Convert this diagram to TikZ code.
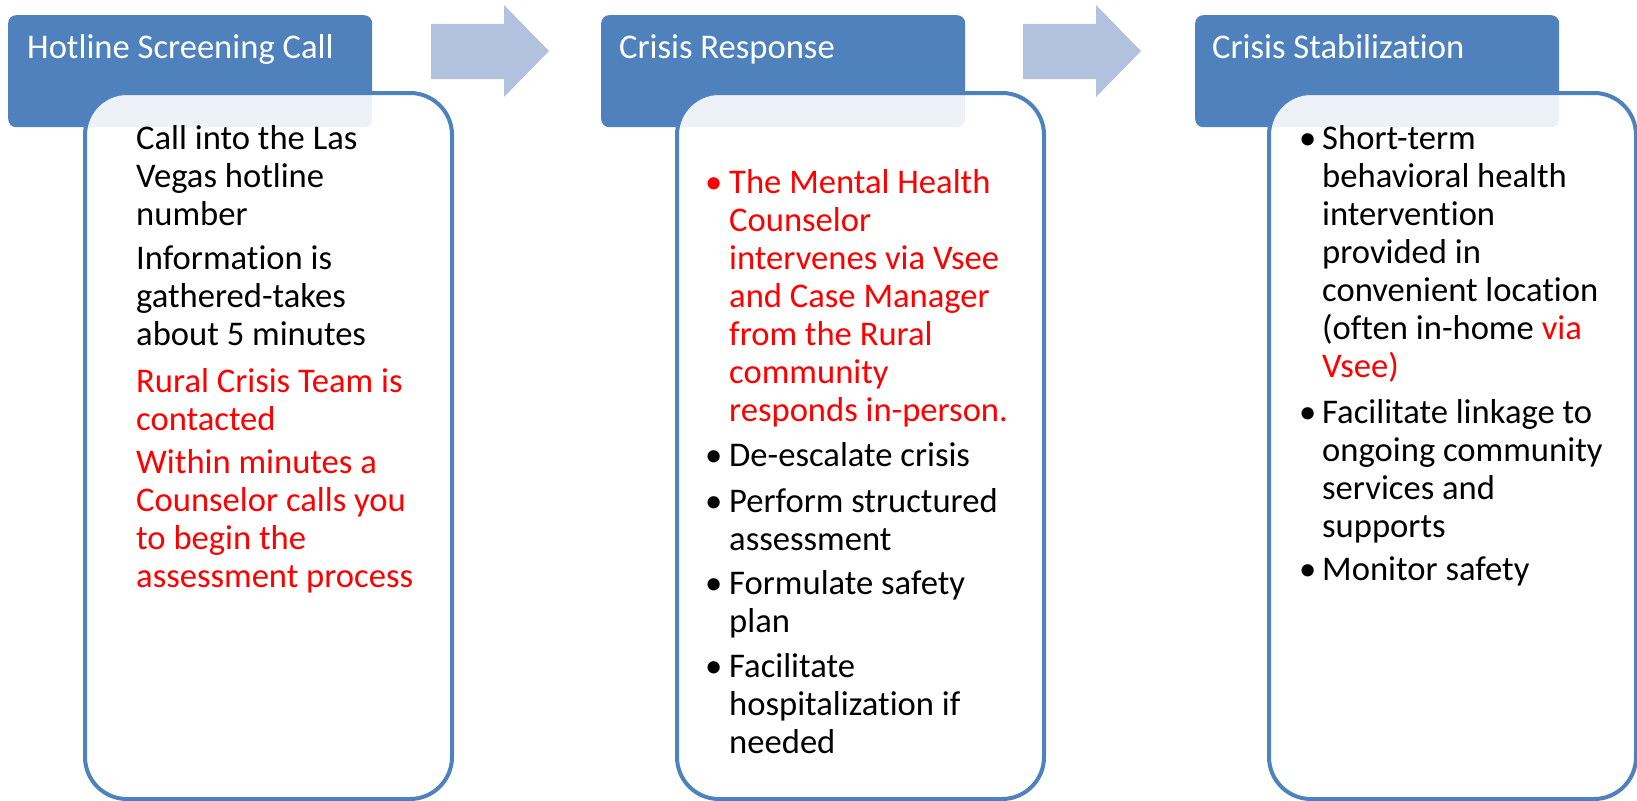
\documentclass[tikz,border=0pt]{standalone}
\usepackage{fontspec}
\setmainfont{Carlito}[Ligatures=NoCommon]
\definecolor{hdrblue}{HTML}{4F81BD}
\definecolor{flowblue}{HTML}{B2C1DE}
\definecolor{hotred}{HTML}{FF0000}

\begin{document}
\begin{tikzpicture}[x=1pt,y=-1pt]
\tikzstyle{every node}+=[inner sep=0pt]
\tikzstyle{header}=[fill=hdrblue, rounded corners=8pt, anchor=north west, minimum width=364pt, minimum height=112pt]
\tikzstyle{panel}=[draw=hdrblue, line width=4pt, fill=white, fill opacity=0.9, rounded corners=42pt, anchor=north west, minimum width=367pt, minimum height=706pt]
\tikzstyle{hdrtext}=[anchor=base west, text=white, font=\fontsize{34.6}{38}\selectfont]
% base of a multi-line body node sits on its last line
\tikzstyle{body}=[anchor=base west, align=left, font=\fontsize{34.6}{38}\selectfont]
\tikzstyle{dot}=[anchor=base west, font=\fontsize{34.6}{38}\selectfont]
\tikzstyle{flow}=[fill=flowblue]
\useasboundingbox (0,0) rectangle (1637,800);

\draw (8,15) node[header] (hdrA) {};
\draw (27,59) node[hdrtext] (titleA) {Hotline Screening Call};
\draw (83,91) node[panel] (panelA) {};
\draw (136,225) node[body] (callA) {Call into the Las\\Vegas hotline\\number};
\draw (136,345) node[body] (infoA) {Information is\\gathered-takes\\about 5 minutes};
\draw (136,430) node[body, text=hotred] (teamA) {Rural Crisis Team is\\contacted};
\draw (136,587) node[body, text=hotred] (withinA) {Within minutes a\\Counselor calls you\\to begin the\\assessment process};

\fill[flow] (431,24) -- (504,24) -- (504,5) -- (549,51) -- (504,97) -- (504,79) -- (431,79) -- cycle;

\draw (601,15) node[header] (hdrB) {};
\draw (619,59) node[hdrtext] (titleB) {Crisis Response};
\draw (675,91) node[panel] (panelB) {};
\draw (705,193) node[dot, text=hotred] {\textbullet};
\draw (729,421) node[body, text=hotred] (counselB) {The Mental Health\\Counselor\\intervenes via Vsee\\and Case Manager\\from the Rural\\community\\responds in-person.};
\draw (705,466) node[dot] {\textbullet};
\draw (729,466) node[body] (deescB) {De-escalate crisis};
\draw (705,512) node[dot] {\textbullet};
\draw (729,550) node[body] (assessB) {Perform structured\\assessment};
\draw (705,594) node[dot] {\textbullet};
\draw (729,632) node[body] (planB) {Formulate safety\\plan};
\draw (705,677) node[dot] {\textbullet};
\draw (729,753) node[body] (hospB) {Facilitate\\hospitalization if\\needed};

\fill[flow] (1023,24) -- (1096,24) -- (1096,5) -- (1141,51) -- (1096,97) -- (1096,79) -- (1023,79) -- cycle;

\draw (1195,15) node[header] (hdrC) {};
\draw (1212,59) node[hdrtext] (titleC) {Crisis Stabilization};
\draw (1267,91) node[panel] (panelC) {};
\draw (1299,149) node[dot] {\textbullet};
\draw (1322,377) node[body] (shortC) {Short-term\\behavioral health\\intervention\\provided in\\convenient location\\(often in-home \textcolor{hotred}{via}\\\textcolor{hotred}{Vsee)}};
\draw (1299,423) node[dot] {\textbullet};
\draw (1322,537) node[body] (linkC) {Facilitate linkage to\\ongoing community\\services and\\supports};
\draw (1299,580) node[dot] {\textbullet};
\draw (1322,580) node[body] (safeC) {Monitor safety};
\end{tikzpicture}
\end{document}
